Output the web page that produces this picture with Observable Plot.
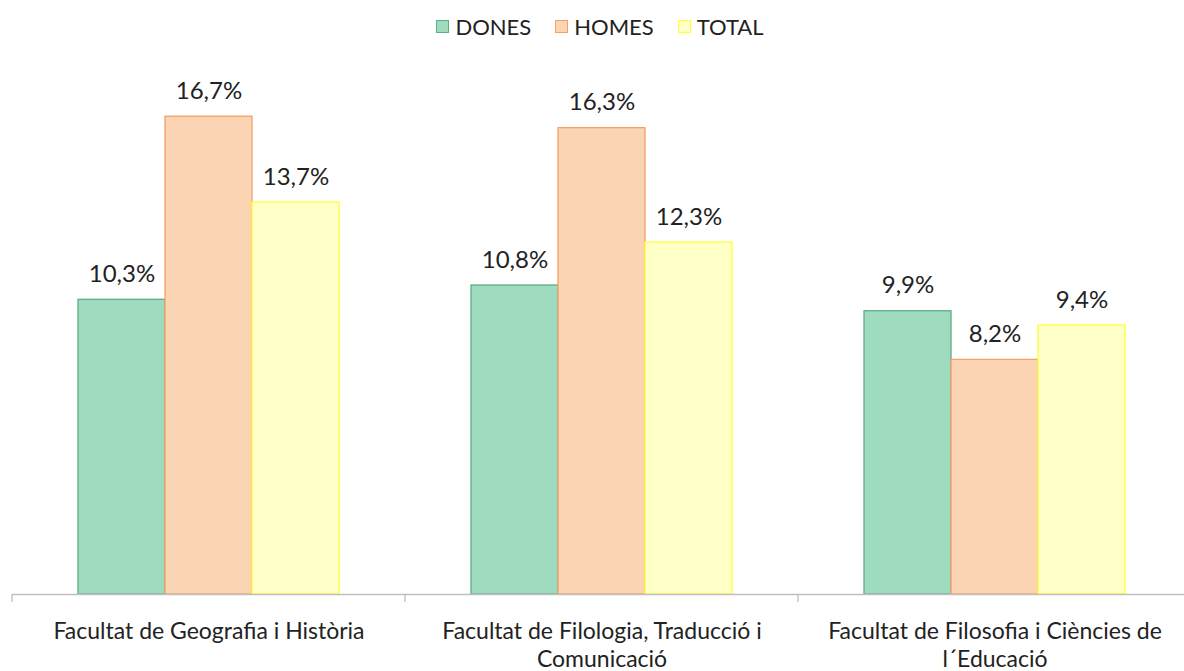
<!DOCTYPE html>
<html><head><meta charset="utf-8">
<script src="https://cdn.jsdelivr.net/npm/d3@7"></script>
<script src="https://cdn.jsdelivr.net/npm/@observablehq/plot@0.6"></script>
<style>
body{margin:0;overflow:hidden;background:#fff;font-family:Lato,"Open Sans",sans-serif;color:#222;width:1184px;}
#legend{height:50px;display:flex;justify-content:center;align-items:center;font-size:22px;padding-left:16px;box-sizing:border-box;padding-top:2px;width:1184px}
.item{display:flex;align-items:center;margin:0 12px}
.sw{width:11px;height:11px;border:1px solid;margin-right:6px}
#chart svg{display:block;max-width:none !important;}
</style></head>
<body><div id="legend"></div><div id="chart"></div>
<script>
const faculties = ["Facultat de Geografia i Història", "Facultat de Filologia, Traducció i Comunicació", "Facultat de Filosofia i Ciències de l´Educació"];
const facultyLabels = ["Facultat de Geografia i Història", "Facultat de Filologia, Traducció i\nComunicació", "Facultat de Filosofia i Ciències de\nl´Educació"];
const series = ["DONES", "HOMES", "TOTAL"];
const dones = [10.3, 10.8, 9.9];
const homes = [16.7, 16.3, 8.2];
const total = [13.7, 12.3, 9.4];
const fills = ["#9fdcbf", "#fbd4b4", "#ffffc8"];
const strokes = ["#5fae86", "#f5a066", "#ffff33"];

const values = [dones, homes, total];
const rows = [];
series.forEach((s, si) => faculties.forEach((f, fi) => rows.push({faculty: f, series: s, value: values[si][fi]})));
const fmt = v => v.toFixed(1).replace(".", ",") + "%";

// legend
const leg = d3.select("#legend");
series.forEach((s, i) => {
  const it = leg.append("div").attr("class", "item");
  it.append("div").attr("class", "sw").style("background", fills[i]).style("border-color", strokes[i]);
  it.append("span").text(s);
});

const ticks = (index, scales, vals, dim) => {
  const g = d3.create("svg:g");
  const y0 = dim.height - dim.marginBottom;
  g.append("line").attr("x1", dim.marginLeft).attr("x2", dim.marginLeft)
    .attr("y1", y0).attr("y2", y0 + 8).attr("stroke", "#bfbfbf").attr("stroke-width", 1.3);
  return g.node();
};

const chart = Plot.plot({
  width: 1192,
  height: 621,
  marginLeft: 11,
  marginRight: 0.5,
  marginTop: 29,
  marginBottom: 77,
  style: {fontFamily: "Lato, 'Open Sans', sans-serif", fontSize: "24px", color: "#222", background: "#fff", maxWidth: "none"},
  fx: {domain: faculties, padding: 0, axis: null},
  x: {domain: series, paddingInner: 0, paddingOuter: 0.75, axis: null},
  y: {domain: [0, 18], axis: null},
  marks: [
    ...series.map((s, i) => Plot.barY(rows.filter(d => d.series === s), {
      fx: "faculty", x: "series", y: "value", fill: fills[i], stroke: strokes[i], strokeWidth: 1.3
    })),
    Plot.ruleY([0], {stroke: "#bfbfbf", strokeWidth: 1.3}),
    ticks,
    Plot.text(rows, {fx: "faculty", x: "series", y: "value", text: d => fmt(d.value), lineAnchor: "bottom", dy: -18, fill: "#222", fontSize: 24}),
    Plot.text(faculties, {fx: d => d, text: (d, i) => facultyLabels[i], frameAnchor: "bottom", lineAnchor: "top", dy: 25, lineHeight: 1.2, fill: "#222", fontSize: 23})
  ]
});
document.getElementById("chart").appendChild(chart);
</script>
</body></html>
